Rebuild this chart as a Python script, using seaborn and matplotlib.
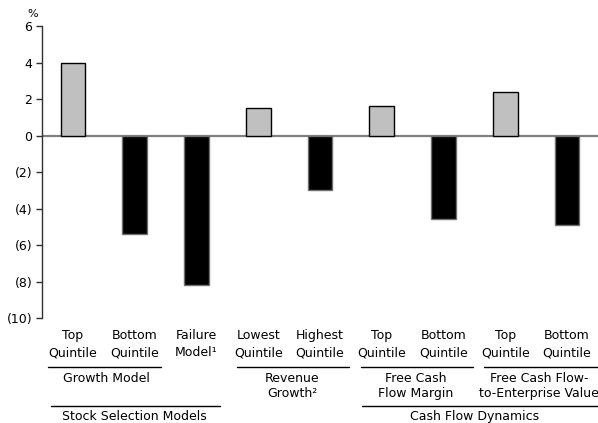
import matplotlib
matplotlib.use("Agg")
import matplotlib.pyplot as plt
import seaborn as sns
import pandas as pd

# Bar categories (two-line labels) and their returns in %
categories = ["Top\nQuintile", "Bottom\nQuintile", "Failure\nModel¹",
              "Lowest\nQuintile", "Highest\nQuintile",
              "Top\nQuintile", "Bottom\nQuintile",
              "Top\nQuintile", "Bottom\nQuintile"]
values = [4.0, -5.4, -8.2, 1.5, -3.0, 1.6, -4.6, 2.4, -4.9]

y_ticks = [6, 4, 2, 0, -2, -4, -6, -8, -10]
y_tick_labels = ["6", "4", "2", "0", "(2)", "(4)", "(6)", "(8)", "(10)"]

# Group captions: (text, line start, line end, text x)
groups = [
    ("Growth Model", -0.40, 1.43, 0.55),
    ("Revenue\nGrowth²", 2.66, 4.47, 3.55),
    ("Free Cash\nFlow Margin", 4.66, 6.48, 5.55),
    ("Free Cash Flow-\nto-Enterprise Value", 6.65, 8.5, 7.55),
]
super_groups = [
    ("Stock Selection Models", -0.35, 2.38, 1.0),
    ("Cash Flow Dynamics", 4.68, 8.5, 6.5),
]

sns.set_style("white")
plt.rcParams["font.family"] = ["DejaVu Sans"]
plt.rcParams["text.color"] = "black"
plt.rcParams["xtick.color"] = "black"
plt.rcParams["ytick.color"] = "black"

FS = 9

df = pd.DataFrame({
    "pos": list(range(len(values))),
    "value": values,
    "sign": ["pos" if v >= 0 else "neg" for v in values],
})

fig = plt.figure(figsize=(5.98, 4.23), dpi=100)
ax = fig.add_axes([0.0702, 0.2482, 0.9298, 0.6903])

ax.axhline(0, color="#808080", lw=1.6, zorder=1)
sns.barplot(data=df, x="pos", y="value", hue="sign",
            palette={"pos": "#c0c0c0", "neg": "#000000"},
            dodge=False, width=0.4, legend=False, ax=ax, zorder=2)
for patch in ax.patches:
    positive = patch.get_y() + patch.get_height() > 0
    patch.set_edgecolor("#000000" if positive else "#707070")
    patch.set_linewidth(1.0)

ax.set_xlim(-0.5, 8.5)
ax.set_ylim(-10, 6)
ax.set_yticks(y_ticks)
ax.set_yticklabels(y_tick_labels, fontsize=FS)
ax.set_xticks(range(len(categories)))
ax.set_xticklabels(categories, fontsize=FS, linespacing=1.4)
ax.tick_params(axis="x", length=0, pad=8, labelcolor="black")
ax.tick_params(axis="y", length=4, width=1, color="#303030", pad=3,
               left=True, labelcolor="black")
ax.set_xlabel("")
ax.set_ylabel("")

for side in ["top", "right", "bottom"]:
    ax.spines[side].set_visible(False)
ax.spines["left"].set_color("#303030")
ax.spines["left"].set_linewidth(1.0)

ax.text(-0.016, 1.040, "%", transform=ax.transAxes, fontsize=8,
        ha="center", va="center", color="black")

tr = ax.get_xaxis_transform()
for text, x0, x1, xt in groups:
    ax.plot([x0, x1], [-0.168, -0.168], color="black", lw=1.0,
            transform=tr, clip_on=False)
    ax.text(xt, -0.184, text, transform=tr, ha="center", va="top",
            fontsize=FS, linespacing=1.25, color="black")
for text, x0, x1, xt in super_groups:
    ax.plot([x0, x1], [-0.300, -0.300], color="black", lw=1.0,
            transform=tr, clip_on=False)
    ax.text(xt, -0.338, text, transform=tr, ha="center", va="center",
            fontsize=FS, color="black")

fig.savefig("out.png", dpi=100)
